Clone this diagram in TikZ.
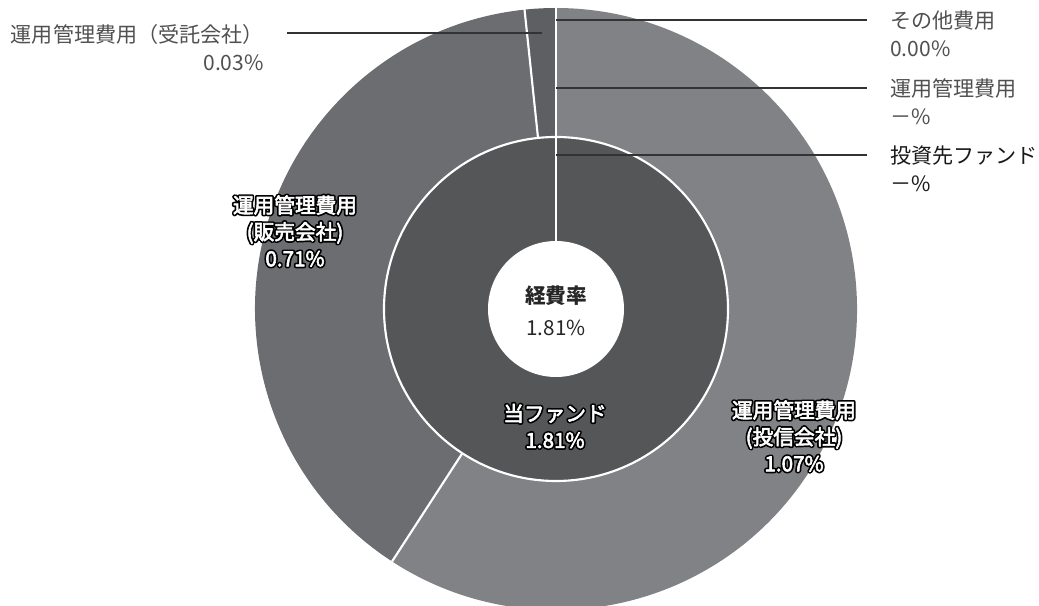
\documentclass[tikz,border=0pt]{standalone}
\usepackage{fontspec}
\setmainfont{Noto Sans CJK JP}
\usetikzlibrary{calc}
\definecolor{cOut}{HTML}{818285}
\definecolor{cSell}{HTML}{6C6D71}
\definecolor{cTrust}{HTML}{5E5F62}
\definecolor{cIn}{HTML}{555658}
\definecolor{cLine}{HTML}{333333}
\definecolor{cTxt}{HTML}{505050}
\newcommand\strokeon{\special{pdf:code 1 Tr 3.0 w 1 j 0 0 0 RG}}
\newcommand\emboldon{\special{pdf:code 2 Tr 0.45 w 1 j}}
\newcommand\strokeoff{\special{pdf:code 0 Tr}}
\tikzset{
  sep/.style={white, line width=1.6pt},
  leader/.style={cLine, line width=1.1pt},
  outlbl/.style={inner sep=0pt, text=cTxt, font=\fontsize{15.8}{21}\selectfont},
  inlbl/.style={inner sep=0pt, text=white, align=center, font=\fontsize{15.5}{20}\selectfont},
  inhalo/.style={inlbl, text=black},
}
\begin{document}
\begin{tikzpicture}[x=0.75pt,y=0.75pt]
\useasboundingbox (0,0) rectangle (1039,606);
\clip (0,0) rectangle (1039,606);
\coordinate (C) at (556,297);
% outer ring slices
\fill[cTrust] (C) -- ++(90:301) arc[start angle=90,end angle=96,radius=301] -- cycle;
\fill[cSell] (C) -- ++(96:301) arc[start angle=96,end angle=237,radius=301] -- cycle;
\fill[cOut] (C) -- ++(237:301) arc[start angle=237,end angle=450,radius=301] -- cycle;
% inner ring
\fill[cIn] (C) circle[radius=172];
\draw[sep] (C) circle[radius=172];
\draw[sep] ($(C)+(96:172)$) -- ($(C)+(96:302)$);
\draw[sep] ($(C)+(237:172)$) -- ($(C)+(237:302)$);
\draw[sep] ($(C)+(90:60)$) -- ($(C)+(90:302)$);
\fill[white] (C) circle[radius=68];
% centre text
\node[inner sep=0pt, align=center, text=black!85, font=\fontsize{15.5}{24}\selectfont] (rate) at (556,295) {\textbf{経費率}\\1.81\%};
% ring labels: black stroke under white fill
\node[inhalo] (own-h) at (555,180) {\strokeon 当ファンド\\1.81\%\strokeoff};
\node[inlbl] (own) at (own-h.center) {\emboldon 当ファンド\\1.81\%\strokeoff};
\node[inhalo] (sell-h) at (295,375) {\strokeon 運用管理費用\\(販売会社)\\0.71\%\strokeoff};
\node[inlbl] (sell) at (sell-h.center) {\emboldon 運用管理費用\\(販売会社)\\0.71\%\strokeoff};
\node[inhalo] (inv-h) at (794,170) {\strokeon 運用管理費用\\(投信会社)\\1.07\%\strokeoff};
\node[inlbl] (inv) at (inv-h.center) {\emboldon 運用管理費用\\(投信会社)\\1.07\%\strokeoff};
% outside labels
\node[outlbl, align=right, anchor=east] (trust) at (264,558) {運用管理費用（受託会社）\\0.03\%};
\node[outlbl, align=left, anchor=west] (other) at (890,572) {その他費用\\0.00\%};
\node[outlbl, align=left, anchor=west] (mgmt) at (890,504) {運用管理費用\\－\%};
\node[outlbl, align=left, anchor=west, text=black!90] (fund) at (890,437) {投資先ファンド\\－\%};
% leader lines
\coordinate (t1) at (542,573);
\coordinate (t2) at (287,573);
\coordinate (o1) at (556,586);
\coordinate (o2) at (867,586);
\coordinate (m1) at (556,518);
\coordinate (m2) at (867,518);
\coordinate (f1) at (556,451);
\coordinate (f2) at (867,451);
\draw[leader] (t1) -- (t2);
\draw[leader] (o1) -- (o2);
\draw[leader] (m1) -- (m2);
\draw[leader] (f1) -- (f2);
\end{tikzpicture}
\end{document}
